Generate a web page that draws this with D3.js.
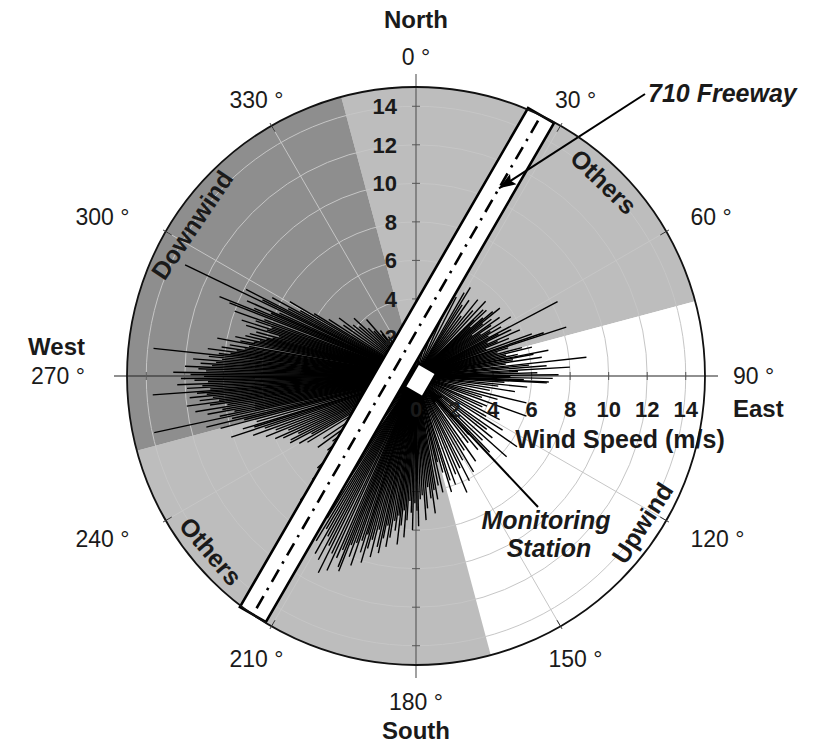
<!DOCTYPE html>
<html>
<head>
<meta charset="utf-8">
<script src="https://cdn.jsdelivr.net/npm/d3@7"></script>
<style>
body { margin: 0; background: #fff; }
svg text { font-family: "Liberation Sans", Arial, sans-serif; fill: #1a1a1a; }
</style>
</head>
<body>
<div id="chart"></div>
<script>
// speed rings and labels
var speedTicks = [2, 4, 6, 8, 10, 12, 14];
var eastTicks = [0, 2, 4, 6, 8, 10, 12, 14];
var speedMax = 15;

// compass
var angleTicks = [0, 30, 60, 90, 120, 150, 180, 210, 240, 270, 300, 330];
var angleLabels = ["0 °", "30 °", "60 °", "90 °", "120 °", "150 °", "180 °", "210 °", "240 °", "270 °", "300 °", "330 °"];
var compassNames = ["North", "East", "South", "West"];

// wind sectors relative to the freeway (degrees from north)
var sectorStart = [345, 75, 165, 255];
var sectorEnd = [435, 165, 255, 345];
var sectorNames = ["Others", "Upwind", "Others", "Downwind"];
var freewayBearing = 30;

var westWind = [[228,5.2],[230,6.0],[232,5.5],[234,6.3],[236,5.8],[238.6,6.6],[240,7.0],[241,6.2],[242,7.4],[243,7.3],
  [244,6.8],[245,7.6],[246,8.0],[247,7.2],[248,8.4],[249,7.8],[250,9.0],[251,8.3],[251.7,10.1],[252.5,8.8],
  [253,9.4],[254,8.6],[255,10.5],[255.7,9.2],[256.3,11.2],[257,9.8],[257.8,13.9],[258.4,10.4],[259,9.6],[259.6,11.0],
  [260.2,10.2],[260.8,11.6],[261.4,9.9],[262,10.8],[262.5,12.0],[263,10.3],[263.5,11.3],[264,10.6],[264.5,11.8],[265,10.9],
  [265.5,11.4],[265.9,13.7],[266.4,10.7],[266.9,11.9],[267.4,11.1],[267.9,12.4],[268.4,10.8],[268.9,11.5],[269.4,12.2],[269.9,11.0],
  [270.4,11.7],[270.9,12.6],[271.4,10.9],[271.9,11.3],[272.4,12.0],[272.9,10.6],[273.4,11.2],[273.9,10.4],[274.4,11.6],[274.9,10.1],
  [275.4,10.8],[276,13.7],[276.5,10.3],[277,9.7],[277.5,10.9],[278,9.4],[278.5,10.2],[279,9.0],[279.5,9.8],[280,8.8],
  [280.8,10.5],[281.3,9.3],[281.8,8.6],[282.3,9.6],[282.8,8.3],[283.3,9.1],[283.8,8.0],[284.3,8.9],[284.8,7.7],[285.4,8.6],
  [286,7.4],[286.6,9.2],[287.2,8.1],[287.8,9.5],[288.4,7.9],[289,8.8],[289.7,10.0],[290.4,8.4],[291.4,10.4],[292,11.0],
  [292.7,9.1],[293.4,8.2],[294,9.6],[294.7,7.8],[295.7,13.3],[296.4,8.9],[297,9.9],[297.8,7.5],[298.6,8.5],[299.5,6.9],
  [300.5,7.6],[301.5,6.2]];
var northWind = [[303,5.4],[305,4.6],[307,5.0],[309,4.2],[311,3.9],[313,4.4],[315,3.5],[317,3.2],[318.8,3.9],[321,2.8],
  [322,3.0],[325,2.5],[328,2.2],[332,2.0],[336,1.8],[340,2.3],[345,1.6],[350,1.4],[355,1.8],[5,2.0],
  [10,2.6],[15,3.0],[20,3.4],[24,4.1],[27,4.6],[30,5.0],[31.5,5.4],[33,4.4],[35,4.8],[37,3.9],
  [39,5.1],[41,4.5],[43,5.3],[45.4,4.9]];
var eastWind = [[46,4.2],[47,5.0],[48,3.8],[49,4.6],[50,5.2],[51,5.6],[52,4.4],[53,4.9],[54,3.6],[55,5.3],
  [56,4.7],[57,4.0],[58,5.8],[59,4.5],[60,5.1],[61,4.3],[62.3,8.3],[63,4.8],[64,5.5],[65,4.1],
  [66,5.9],[67,4.6],[68,5.2],[69,3.9],[70,6.4],[71.3,7.0],[72,8.2],[73,5.0],[74,4.4],[75,5.7],
  [76,6.2],[77,4.8],[78,5.4],[79,7.0],[79.5,6.2],[80.5,5.1],[81.5,6.6],[82.5,4.7],[83.7,8.9],[84.5,5.9],
  [85.5,6.8],[86.7,8.0],[87.5,5.3],[88.5,6.3],[89.5,7.4],[90.5,4.9],[91,7.1],[92,5.6],[92.6,6.9],[93,6.8],
  [94,4.6],[95.7,5.8],[97,4.3],[99,5.2],[101,3.9],[103.7,5.9],[106,4.4],[108,3.6],[110,6.1],[113,4.0]];
var southWind = [[115,3.8],[117.6,4.9],[120,4.2],[122,5.3],[125,6.4],[127,4.6],[129,5.1],[131.7,6.3],[134,4.8],[136,5.5],
  [138,4.1],[140,5.0],[142,4.4],[145,5.4],[147,4.6],[149,5.8],[151,5.0],[153,6.1],[154.5,5.3],[156.4,6.6],
  [158,5.5],[160,6.0],[161.9,5.7],[163,6.3],[164.5,5.2],[166,4.6],[167,6.2],[168.5,5.8],[170,6.5],[171,6.0],
  [172,7.2],[173,6.4],[174,5.8],[175,6.9],[176,7.5],[177,6.2],[178,6.4],[179,7.8],[179.6,7.0],[180.5,6.6],
  [181.3,8.0],[182,7.1],[182.8,6.5],[183.6,7.5],[184.3,8.4],[185,7.0],[185.7,7.8],[186.4,8.8],[187,7.3],[187.7,8.1],
  [188.4,7.6],[189.2,8.5],[190,9.0],[190.7,7.9],[191.4,8.6],[192,9.4],[192.8,9.1],[193.5,8.2],[194.2,9.7],[195,8.8],
  [195.7,9.3],[196.4,10.1],[197,8.6],[197.5,9.6],[198.2,9.0],[199,10.4],[199.6,9.2],[200.3,10.0],[201,9.4],[201.6,10.9],
  [202.2,10.7],[202.9,9.8],[203.6,10.3],[204.6,11.1],[205.4,10.2],[206.4,11.4],[207.2,9.9],[208,10.8],[208.8,9.5],[209.6,10.6],
  [210.4,9.2],[211.2,10.0],[212,8.7],[213,9.6],[214,8.4],[215,9.1],[217,8.6],[219,9.4],[221,8.0],[223,8.8],
  [225,7.6],[227,7.0]];

var svgWidth = 817;
var svgHeight = 748;
var cx = 416, cy = 376, R = 289;

var svg = d3.select("#chart")
    .append("svg")
    .attr("width", svgWidth)
    .attr("height", svgHeight);

var rScale = d3.scaleLinear().domain([0, speedMax]).range([0, R]);
var rad = d => d * Math.PI / 180;
// bearing (clockwise from north) + radius -> screen point
function pt(deg, r) {
    return [cx + r * Math.sin(rad(deg)), cy - r * Math.cos(rad(deg))];
}

var plot = svg.append("g").attr("transform", `translate(${cx},${cy})`);

// sectors
var sectorFill = { "Others": "#bdbdbd", "Upwind": "#ffffff", "Downwind": "#8e8e8e" };
var arc = d3.arc().innerRadius(0).outerRadius(R);
plot.selectAll("path.sector")
    .data(sectorNames)
    .enter()
    .append("path")
    .attr("d", (d, i) => arc({ startAngle: rad(sectorStart[i]), endAngle: rad(sectorEnd[i]) }))
    .attr("fill", d => sectorFill[d]);

// grid rings and spokes
plot.selectAll("circle.ring")
    .data(speedTicks)
    .enter()
    .append("circle")
    .attr("r", d => rScale(d))
    .attr("fill", "none")
    .attr("stroke", "#c6c6c6")
    .attr("stroke-width", 1);

plot.selectAll("line.spoke")
    .data(angleTicks.filter(d => d % 90 != 0))
    .enter()
    .append("line")
    .attr("x2", d => pt(d, R)[0] - cx)
    .attr("y2", d => pt(d, R)[1] - cy)
    .attr("stroke", "#c6c6c6")
    .attr("stroke-width", 1);

// cardinal axes, running a bit past the rim
plot.selectAll("line.axis")
    .data([0, 90, 180, 270])
    .enter()
    .append("line")
    .attr("x2", d => pt(d, R + 13)[0] - cx)
    .attr("y2", d => pt(d, R + 13)[1] - cy)
    .attr("stroke", d => d == 90 || d == 270 ? "#222" : "#555")
    .attr("stroke-width", 1.1);

[0, 90, 180, 270].forEach(function(a) {
    plot.selectAll(null)
        .data(speedTicks)
        .enter()
        .append("line")
        .attr("x1", d => pt(a, rScale(d))[0] - cx + 4 * Math.cos(rad(a)))
        .attr("y1", d => pt(a, rScale(d))[1] - cy + 4 * Math.sin(rad(a)))
        .attr("x2", d => pt(a, rScale(d))[0] - cx - 4 * Math.cos(rad(a)))
        .attr("y2", d => pt(a, rScale(d))[1] - cy - 4 * Math.sin(rad(a)))
        .attr("stroke", "#555")
        .attr("stroke-width", 1);
});

// wind vectors
var allWind = westWind.concat(northWind, eastWind, southWind);
plot.selectAll("line.wind")
    .data(allWind)
    .enter()
    .append("line")
    .attr("x2", d => pt(d[0], rScale(d[1]))[0] - cx)
    .attr("y2", d => pt(d[0], rScale(d[1]))[1] - cy)
    .attr("stroke", "#000")
    .attr("stroke-width", 1.4);

// radial tick labels up the north axis
plot.selectAll("text.nlab")
    .data(speedTicks)
    .enter()
    .append("text")
    .attr("x", -19)
    .attr("y", d => -rScale(d))
    .attr("dy", "0.36em")
    .attr("text-anchor", "end")
    .attr("font-size", 22)
    .attr("font-weight", "bold")
    .text(d => d);

// labels under the east axis
plot.selectAll("text.elab")
    .data(eastTicks)
    .enter()
    .append("text")
    .attr("x", d => rScale(d))
    .attr("y", 41)
    .attr("text-anchor", "middle")
    .attr("font-size", 22)
    .attr("font-weight", "bold")
    .text(d => d);

plot.append("text")
    .attr("x", 204)
    .attr("y", 72)
    .attr("text-anchor", "middle")
    .attr("font-size", 25)
    .attr("font-weight", "bold")
    .text("Wind Speed (m/s)");

// freeway band
var off = -rScale(1.14);      // centre line sits a little up-left of the station
var halfLen = Math.sqrt(R * R - off * off);
var fw = plot.append("g").attr("transform", `rotate(${freewayBearing})`);
fw.append("rect")
    .attr("x", off - 15)
    .attr("y", -halfLen)
    .attr("width", 30)
    .attr("height", 2 * halfLen)
    .attr("fill", "#fff")
    .attr("stroke", "#000")
    .attr("stroke-width", 2.6);
fw.append("line")
    .attr("x1", off).attr("x2", off)
    .attr("y1", -halfLen + 6).attr("y2", halfLen - 6)
    .attr("stroke", "#000")
    .attr("stroke-width", 2.6)
    .attr("stroke-dasharray", "14,7,2.5,7");

// monitoring station box
fw.append("rect")
    .attr("x", -4)
    .attr("y", -12)
    .attr("width", 20)
    .attr("height", 27)
    .attr("fill", "#fff")
    .attr("stroke", "#000")
    .attr("stroke-width", 2);

// sector labels along the rim
var labelShift = [14, 3, 19.5, 4];
sectorNames.forEach(function(name, i) {
    var b = (sectorStart[i] + sectorEnd[i]) / 2 + labelShift[i];
    b = b % 360;
    var p = pt(b, R - 19);
    var top = (b > 270 || b < 90);
    plot.append("text")
        .attr("transform", `translate(${p[0] - cx},${p[1] - cy}) rotate(${top ? b : b - 180})`)
        .attr("text-anchor", "middle")
        .attr("dy", "0.35em")
        .attr("font-size", 25)
        .attr("font-weight", "bold")
        .text(name);
});

// annotations with arrows
function arrow(x1, y1, x2, y2) {
    plot.append("line")
        .attr("x1", x1).attr("y1", y1).attr("x2", x2).attr("y2", y2)
        .attr("stroke", "#000").attr("stroke-width", 2);
    var a = Math.atan2(y2 - y1, x2 - x1);
    var L = 17, w = 6;
    var bx = x2 - L * Math.cos(a), by = y2 - L * Math.sin(a);
    plot.append("path")
        .attr("d", `M${x2},${y2}L${bx - w * Math.sin(a)},${by + w * Math.cos(a)}L${bx + 3 * Math.cos(a)},${by + 3 * Math.sin(a)}L${bx + w * Math.sin(a)},${by - w * Math.cos(a)}Z`)
        .attr("fill", "#000");
}
var tip = pt(freewayBearing, 204);
var tipX = tip[0] - cx + off * Math.cos(rad(freewayBearing));
var tipY = tip[1] - cy + off * Math.sin(rad(freewayBearing));
arrow(229, -282, tipX, tipY);
arrow(122, 131, 11, 13);

plot.append("text")
    .attr("x", 232).attr("y", -274)
    .attr("font-size", 25).attr("font-weight", "bold").attr("font-style", "italic")
    .text("710 Freeway");
plot.append("text")
    .attr("x", 130).attr("y", 153)
    .attr("text-anchor", "middle")
    .attr("font-size", 25).attr("font-weight", "bold").attr("font-style", "italic")
    .text("Monitoring");
plot.append("text")
    .attr("x", 133).attr("y", 181)
    .attr("text-anchor", "middle")
    .attr("font-size", 25).attr("font-weight", "bold").attr("font-style", "italic")
    .text("Station");

// rim and its ticks
plot.append("circle")
    .attr("r", R)
    .attr("fill", "none")
    .attr("stroke", "#111")
    .attr("stroke-width", 1.8);

plot.selectAll("line.rimtick")
    .data(angleTicks.filter(d => d % 90 != 0))
    .enter()
    .append("line")
    .attr("x1", d => pt(d, R - 7)[0] - cx)
    .attr("y1", d => pt(d, R - 7)[1] - cy)
    .attr("x2", d => pt(d, R + 3)[0] - cx)
    .attr("y2", d => pt(d, R + 3)[1] - cy)
    .attr("stroke", "#333")
    .attr("stroke-width", 1);

// angle labels
function labelPos(a) {
    var s = Math.sin(rad(a)), c = Math.cos(rad(a));
    var anchor = "middle", rx = R + 30;
    if (s > 0.6) { anchor = "start"; rx = R + 28; }
    if (s < -0.6) { anchor = "end"; rx = R + 42; }
    var ry = c >= 0 ? R + 30 : R + 37;
    if (Math.abs(s) > 0.99) ry = 0;
    return { x: rx * s, y: -ry * c, anchor: anchor };
}
plot.selectAll("text.alab")
    .data(angleTicks)
    .enter()
    .append("text")
    .attr("x", d => labelPos(d).x)
    .attr("y", d => labelPos(d).y)
    .attr("dy", "0.36em")
    .attr("text-anchor", d => labelPos(d).anchor)
    .attr("font-size", 23)
    .text((d, i) => angleLabels[i]);

var nameOffset = [-38, 32, 28, -30];
compassNames.forEach(function(name, i) {
    var p = labelPos(i * 90);
    plot.append("text")
        .attr("x", p.x)
        .attr("y", p.y + nameOffset[i])
        .attr("dy", "0.36em")
        .attr("text-anchor", p.anchor)
        .attr("font-size", 24)
        .attr("font-weight", "bold")
        .text(name);
});
</script>
</body>
</html>
